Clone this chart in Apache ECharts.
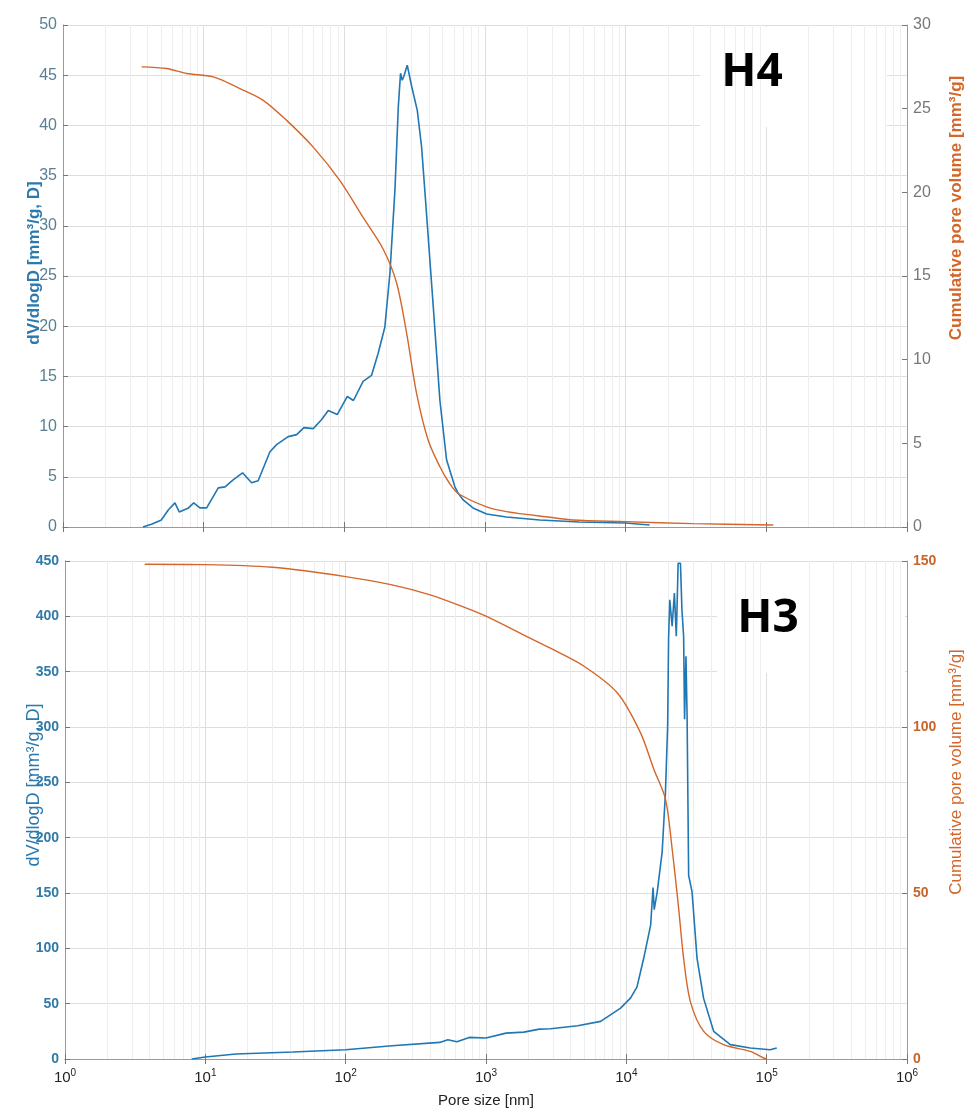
<!DOCTYPE html>
<html>
<head>
<meta charset="utf-8">
<script src="https://cdn.jsdelivr.net/npm/echarts@6/dist/echarts.min.js"></script>
<style>
  html, body {margin: 0; padding: 0; background: #fff;}
  #chart {width: 966px; height: 1109px;}
</style>
</head>
<body>
<div id="chart"></div>
<script>
// H4 sample: [pore size nm, value]
let h4Dv = [[3.7,0],[4.3,0.3],[5.0,0.7],[5.6,1.7],[6.25,2.4],[6.7,1.5],[7.8,1.9],[8.5,2.4],[9.4,1.9],[10.5,1.9],
  [12.7,3.9],[14.2,4.0],[16.2,4.7],[18.9,5.4],[21.9,4.4],[24.4,4.6],[29.6,7.5],[33,8.2],[39.9,9.0],[45.8,9.2],
  [51.6,9.9],[60.1,9.8],[69,10.7],[76.9,11.6],[89,11.2],[105,13.0],[116,12.6],[136,14.5],[156,15.1],[174,17.3],
  [194,19.9],[211,25.3],[229,33.6],[242,41.9],[251,45.2],[258,44.5],[265,44.9],[280,46.0],[301,43.9],[330,41.5],
  [354,37.9],[384,31.2],[429,21.9],[478,12.6],[533,6.7],[611,4.0],[645,3.35],[700,2.7],[821,1.9],[1026,1.3],
  [1420,1.0],[2450,0.7],[4690,0.5],[10000,0.4],[14800,0.2]];
let h4Cum = [[3.62,27.5],[5.46,27.4],[7.57,27.1],[11.7,26.9],[18.1,26.2],[26.5,25.5],[38.9,24.3],[60.1,22.7],
  [93,20.7],[136,18.5],[189,16.6],[235,14.6],[277,11.6],[326,8.0],[394,5.2],[478,3.6],[560,2.6],[645,2.0],
  [1026,1.2],[1420,0.92],[2890,0.58],[4220,0.42],[10000,0.32],[30000,0.2],[112000,0.12]];

// H3 sample
let h3Dv = [[8,0],[10,1.8],[16.5,4.5],[42,6.3],[100,8.4],[214,12],[468,15],[535,17.4],[620,15.6],[760,19.5],
  [1000,19],[1390,23.4],[1860,24.3],[2400,27],[2890,27.3],[4500,30],[6560,34],[9100,46],[10700,55],[11900,65],
  [13300,91],[14900,121],[15500,155],[15800,135],[16600,151],[18000,187],[19000,241],[19700,301],[20000,380],
  [20400,415],[21200,391],[22000,421],[22700,382],[23400,448],[24300,448],[24900,406],[25600,382],[26000,307],
  [26600,364],[27100,310],[27800,166],[29400,151],[31900,91],[35500,55],[41900,25],[55100,13],[76400,10],
  [105900,8.4],[118000,10]];
let h3Cum = [[3.7,149],[10,148.9],[30,148.1],[100,145.3],[214,142.8],[400,139.8],[726,135.8],[1008,133.3],
  [1940,127.3],[2850,123.8],[4990,118.3],[8610,110.3],[12600,98.3],[15700,87.3],[19000,78.3],[21200,63.3],
  [23600,45.3],[25600,30.3],[28600,17.3],[35600,8.3],[49300,4.3],[76400,2.3],[94900,0.3],[100000,0]];

let blue = '#1f77b4';
let orange = '#d4662a';
let axisGray = '#9a9a9a';
let font = 'Liberation Sans';

// minor log grid lines 2..9 x 10^k
let minorLines = [];
for (let k = 0; k < 6; k++) {
  for (let m = 2; m <= 9; m++) minorLines.push({xAxis: m * Math.pow(10, k)});
}

function xAx(grid, pos, labels) {
  return {
    type: 'log', logBase: 10, min: 1, max: 1000000, gridIndex: grid, position: pos,
    splitNumber: 6,
    axisLine: {show: true, lineStyle: {color: axisGray}},
    axisTick: {show: true, inside: true, length: 5, lineStyle: {color: '#777'}},
    axisLabel: labels ? {
      show: true, margin: 9, color: '#222',
      formatter: function (v) { return '{b|10}{s|' + Math.round(Math.log10(v)) + '}'; },
      rich: {
        b: {fontFamily: font, fontSize: 15, color: '#222'},
        s: {fontFamily: font, fontSize: 10, color: '#222', padding: [0, 0, 9, 0]}
      }
    } : {show: false},
    splitLine: {show: pos == 'bottom', lineStyle: {color: '#dedede'}},
    name: labels ? 'Pore size [nm]' : '',
    nameLocation: 'middle', nameGap: 34,
    nameTextStyle: {fontFamily: font, fontSize: 15, color: '#222'}
  };
}

function yAx(grid, pos, max, interval, labelColor, size, bold, split) {
  return {
    type: 'value', gridIndex: grid, position: pos, min: 0, max: max, interval: interval,
    axisLine: {show: true, lineStyle: {color: axisGray}},
    axisTick: {show: true, inside: true, length: 5, lineStyle: {color: '#777'}},
    axisLabel: {color: labelColor, fontFamily: font, fontSize: size, fontWeight: bold ? 'bold' : 'normal', margin: 6},
    splitLine: {show: split, lineStyle: {color: '#dedede'}}
  };
}

function nameText(x, y, text, color, size, bold) {
  return {
    type: 'text', x: x, y: y, rotation: Math.PI / 2, z: 10,
    style: {text: text, fill: color, fontFamily: font, fontSize: size, fontWeight: bold ? 'bold' : 'normal',
      align: 'center', verticalAlign: 'middle'}
  };
}

let chart = echarts.init(document.getElementById('chart'));
let option = {
  backgroundColor: '#fff',
  animation: false,
  grid: [
    {left: 63, right: 59, top: 25, height: 502},
    {left: 65, right: 59, top: 561, height: 500}
  ],
  xAxis: [xAx(0, 'bottom', false), xAx(0, 'top', false), xAx(1, 'bottom', true), xAx(1, 'top', false)],
  yAxis: [
    yAx(0, 'left', 50, 5, '#5a7f94', 16, false, true),
    yAx(0, 'right', 30, 5, '#777777', 16, false, false),
    yAx(1, 'left', 450, 50, '#2f7aa8', 14, true, true),
    yAx(1, 'right', 150, 50, '#c8642a', 14, true, false)
  ],
  graphic: [
    {type: 'rect', shape: {x: 700, y: 27, width: 187, height: 100}, style: {fill: '#fff'}, z: 3},
    {type: 'text', x: 752, y: 73, z: 10, style: {text: 'H4', fill: '#000', fontFamily: 'Open Sans', fontSize: 46,
      fontWeight: 'bold', align: 'center', verticalAlign: 'middle'}},
    {type: 'rect', shape: {x: 717, y: 562, width: 188, height: 111}, style: {fill: '#fff'}, z: 3},
    {type: 'text', x: 768, y: 619, z: 10, style: {text: 'H3', fill: '#000', fontFamily: 'Open Sans', fontSize: 46,
      fontWeight: 'bold', align: 'center', verticalAlign: 'middle'}},
    nameText(34, 263, 'dV/dlogD [mm³/g, D]', '#2a7ab0', 17, true),
    nameText(956, 208, 'Cumulative pore volume [mm³/g]', orange, 17, true),
    nameText(34, 785, 'dV/dlogD [mm³/g, D]', '#2a7ab0', 18, false),
    nameText(956, 772, 'Cumulative pore volume [mm³/g]', orange, 17, false)
  ],
  series: [
    {type: 'line', xAxisIndex: 0, yAxisIndex: 0, data: [], z: 1, silent: true,
      markLine: {silent: true, symbol: 'none', label: {show: false}, lineStyle: {color: '#eeeeee', type: 'solid', width: 1}, data: minorLines}},
    {type: 'line', xAxisIndex: 2, yAxisIndex: 2, data: [], z: 1, silent: true,
      markLine: {silent: true, symbol: 'none', label: {show: false}, lineStyle: {color: '#eeeeee', type: 'solid', width: 1}, data: minorLines}},
    {name: 'H4 dV/dlogD', type: 'line', xAxisIndex: 0, yAxisIndex: 0, data: h4Dv, showSymbol: false, z: 5,
      lineStyle: {color: blue, width: 1.6}},
    {name: 'H4 cumulative', type: 'line', xAxisIndex: 0, yAxisIndex: 1, data: h4Cum, showSymbol: false, z: 5, smooth: 0.3,
      lineStyle: {color: orange, width: 1.4}},
    {name: 'H3 dV/dlogD', type: 'line', xAxisIndex: 2, yAxisIndex: 2, data: h3Dv, showSymbol: false, z: 5,
      lineStyle: {color: blue, width: 1.6}},
    {name: 'H3 cumulative', type: 'line', xAxisIndex: 2, yAxisIndex: 3, data: h3Cum, showSymbol: false, z: 5, smooth: 0.3,
      lineStyle: {color: orange, width: 1.4}}
  ]
};
chart.setOption(option);
</script>
</body>
</html>
